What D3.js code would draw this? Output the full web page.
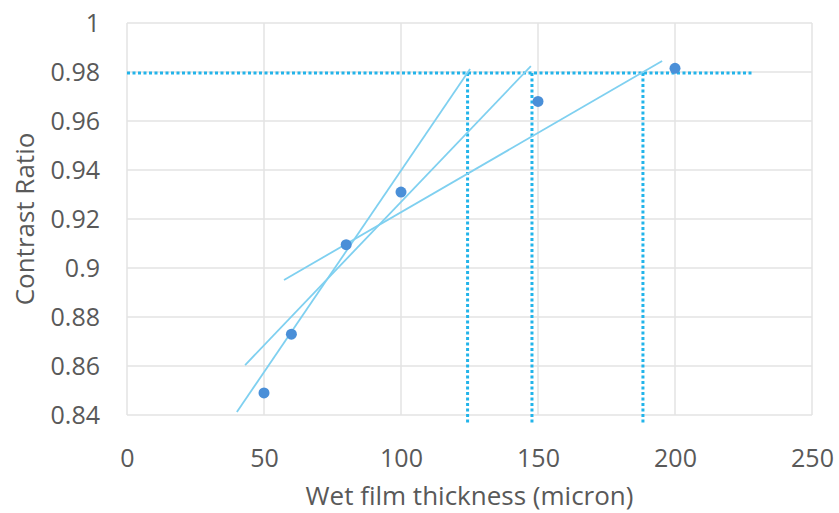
<!DOCTYPE html>
<html>
<head>
<meta charset="utf-8">
<script src="https://cdn.jsdelivr.net/npm/d3@7"></script>
<style>
  body { margin: 0; background: #fff; }
  text { font-family: "Open Sans", sans-serif; fill: #595959; }
</style>
</head>
<body>
<svg id="chart" width="839" height="513"></svg>
<script>
// measured points
var thickness = [50, 60, 80, 100, 150, 200];
var contrast = [0.849, 0.873, 0.9095, 0.931, 0.968, 0.9815];

// trend lines, [x, y] at both ends
var trendLines = [
    [[40.1, 0.8412], [125.2, 0.9812]],
    [[43.1, 0.8604], [147.4, 0.9824]],
    [[57.3, 0.8951], [195.3, 0.9845]]
];

// target ratio and thickness read-offs
var targetRatio = 0.9796;
var targetX = [0, 228];
var readOffs = [124.3, 147.8, 188.3];
var readOffBottom = 0.8365;

var xTicks = [0, 50, 100, 150, 200, 250];
var yTicks = [0.84, 0.86, 0.88, 0.9, 0.92, 0.94, 0.96, 0.98, 1];

var width = 839, height = 513;
var margin = {"top": 23, "right": 27, "bottom": 98, "left": 127};

var svg = d3.select("svg#chart");

var x = d3.scaleLinear().domain([0, 250]).range([margin.left, width - margin.right]);
var y = d3.scaleLinear().domain([0.84, 1]).range([height - margin.bottom, margin.top]);

// grid
svg.append("g")
    .selectAll("line")
    .data(yTicks)
    .enter()
    .append("line")
    .attr("x1", x(0)).attr("x2", x(250))
    .attr("y1", function(d){ return y(d)}).attr("y2", function(d){ return y(d)})
    .style("stroke", "#e3e3e3")
    .style("stroke-width", 1.5);

svg.append("g")
    .selectAll("line")
    .data(xTicks)
    .enter()
    .append("line")
    .attr("y1", y(0.84)).attr("y2", y(1))
    .attr("x1", function(d){ return x(d)}).attr("x2", function(d){ return x(d)})
    .style("stroke", "#e3e3e3")
    .style("stroke-width", 1.5);

// tick labels
var xAxis = svg.append("g")
    .attr("transform", `translate(0 ${y(0.84)})`)
    .call(d3.axisBottom(x).tickValues(xTicks).tickSize(0).tickPadding(34).tickFormat(d3.format("d")));
var yAxis = svg.append("g")
    .attr("transform", `translate(${x(0)} 0)`)
    .call(d3.axisLeft(y).tickValues(yTicks).tickSize(0).tickPadding(27).tickFormat(function(d){ return String(+d.toFixed(2))}));

[xAxis, yAxis].forEach(function(a){
    a.select(".domain").remove();
    a.selectAll("text")
        .style("font-family", "'Open Sans', sans-serif")
        .style("font-size", "25px")
        .style("fill", "#595959");
});

// dotted read-off lines
var dotColor = "#22b4ea";
svg.append("line")
    .attr("x1", x(targetX[0])).attr("x2", x(targetX[1]))
    .attr("y1", y(targetRatio)).attr("y2", y(targetRatio))
    .style("stroke", dotColor)
    .style("stroke-width", 3)
    .style("stroke-dasharray", "3 2.5");

svg.append("g")
    .selectAll("line")
    .data(readOffs)
    .enter()
    .append("line")
    .attr("x1", function(d){ return x(d)}).attr("x2", function(d){ return x(d)})
    .attr("y1", y(targetRatio)).attr("y2", y(readOffBottom))
    .style("stroke", dotColor)
    .style("stroke-width", 3)
    .style("stroke-dasharray", "3 2.5");

// trend lines
var line = d3.line()
    .x(function(d){ return x(d[0])})
    .y(function(d){ return y(d[1])});

svg.append("g")
    .selectAll("path")
    .data(trendLines)
    .enter()
    .append("path")
    .attr("d", line)
    .style("fill", "none")
    .style("stroke", "#7fd0f0")
    .style("stroke-width", 1.8);

// points
svg.append("g")
    .selectAll("circle")
    .data(thickness)
    .enter()
    .append("circle")
    .attr("cx", function(d){ return x(d)})
    .attr("cy", function(d, i){ return y(contrast[i])})
    .attr("r", 5.5)
    .style("fill", "#4a8fd8");

// axis titles
svg.append("text")
    .text("Wet film thickness (micron)")
    .attr("x", (x(0) + x(250)) / 2)
    .attr("y", 505)
    .attr("text-anchor", "middle")
    .style("font-size", "26px");

svg.append("text")
    .text("Contrast Ratio")
    .attr("transform", `translate(34 ${(y(0.84) + y(1)) / 2}) rotate(-90)`)
    .attr("text-anchor", "middle")
    .style("font-size", "26px");
</script>
</body>
</html>
